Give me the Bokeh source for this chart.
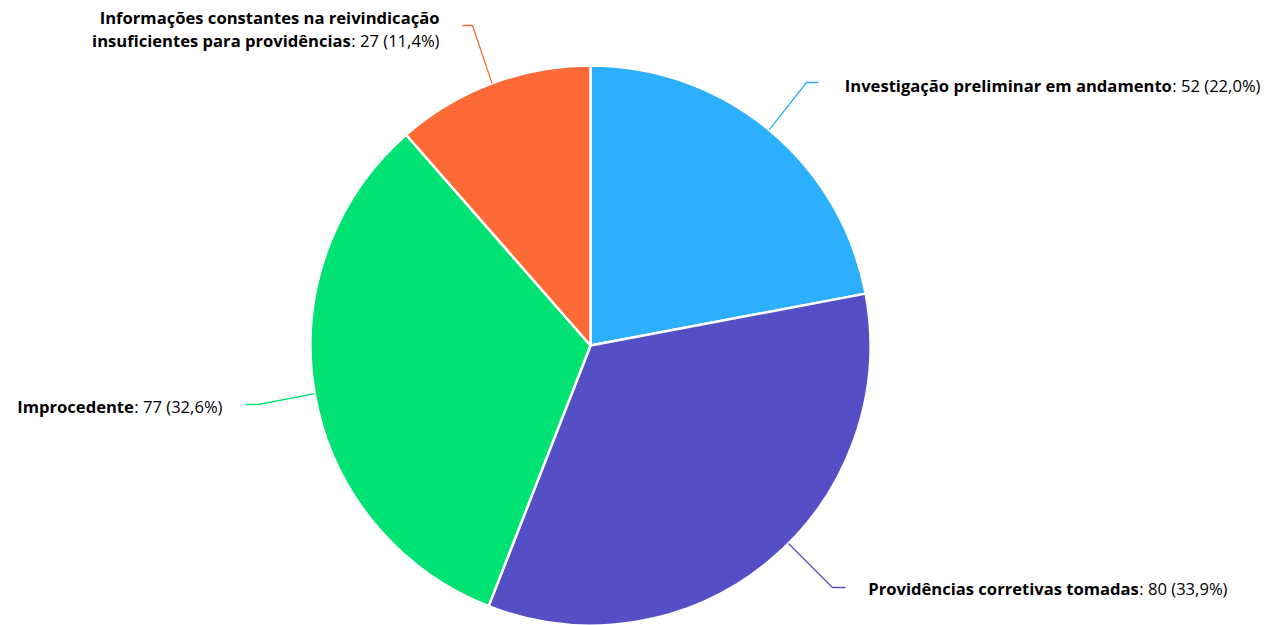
import math
from bokeh.plotting import figure
from bokeh.models import Range1d
from bokeh.core.properties import value
from bokeh.embed import file_html
from bokeh.resources import INLINE

# ---- data ----
names = [
    "Investigação preliminar em andamento",
    "Providências corretivas tomadas",
    "Improcedente",
    "Informações constantes na reivindicação insuficientes para providências",
]
values = [52, 80, 77, 27]
colors = ["#2caffe", "#544fc5", "#00e272", "#fe6a35"]

# ---- layout (screen pixels) ----
W, H = 1265, 625
OFF = 0  # screen offset of the canvas
CX, CY, R = 590, 345, 280
FONT = "Open Sans"
FS = 16.6
label_layout = [
    dict(angle=None, elbow=(806, 82), end=818, tx=1260, ty=[85], wrap=None),
    dict(angle=-45.0, elbow=(832, 587), end=845, tx=1227, ty=[588], wrap=None),
    dict(angle=None, elbow=(258, 404), end=245, tx=222, ty=[406], wrap=None),
    dict(angle=None, elbow=(472, 25), end=462, tx=439, ty=[17, 40], wrap=4),
]

# approx advance widths (em) of Open Sans Regular for the value part
CW = {":": 0.266, " ": 0.26, "(": 0.296, ")": 0.296, ",": 0.245, "%": 0.856, ".": 0.266}
def width_regular(s, fs=FS):
    return sum(CW.get(ch, 0.572) for ch in s) * fs

def sy(y):
    return -y

p = figure(width=W, height=H, output_backend="svg", toolbar_location=None,
           x_range=Range1d(OFF, OFF + W), y_range=Range1d(-(OFF + H), -OFF),
           x_axis_location=None, y_axis_location=None, min_border=0,
           background_fill_color="white", border_fill_color="white")
p.outline_line_color = None
p.xgrid.visible = False
p.ygrid.visible = False

total = sum(values)
cum = 0
for i, v in enumerate(values):
    a0 = 90 - cum / total * 360
    cum += v
    a1 = 90 - cum / total * 360
    p.wedge(x=CX, y=sy(CY), radius=R, start_angle=math.radians(a1), end_angle=math.radians(a0),
            direction="anticlock", fill_color=colors[i], line_color="white", line_width=2.5)

    lay = label_layout[i]
    mid = (a0 + a1) / 2 if lay["angle"] is None else lay["angle"]
    sx0 = CX + R * math.cos(math.radians(mid))
    sy0 = CY - R * math.sin(math.radians(mid))
    ex, ey = lay["elbow"]
    p.line(x=[sx0, ex, lay["end"]], y=[sy(sy0), sy(ey), sy(ey)], line_color=colors[i], line_width=1.3)

    pct = f"{v / total * 100:.1f}".replace(".", ",")
    val_txt = f": {v} ({pct}%)"
    words = names[i].split(" ")
    if lay["wrap"]:
        lines = [" ".join(words[:lay["wrap"]]), " ".join(words[lay["wrap"]:])]
    else:
        lines = [names[i]]
    wv = width_regular(val_txt)
    tx = lay["tx"]
    for j, ln in enumerate(lines):
        ty = sy(lay["ty"][j])
        last = j == len(lines) - 1
        bx = tx - wv if last else tx
        p.text(x=[bx], y=[ty], text=[ln], text_align="right", text_baseline="middle",
               text_font=value(FONT), text_font_size=f"{FS}px", text_font_style="bold",
               text_color="#000000")
        if last:
            p.text(x=[tx], y=[ty], text=[val_txt], text_align="right", text_baseline="middle",
                   text_font=value(FONT), text_font_size=f"{FS}px", text_color="#000000")

open("out.html", "w").write(file_html(p, INLINE))
